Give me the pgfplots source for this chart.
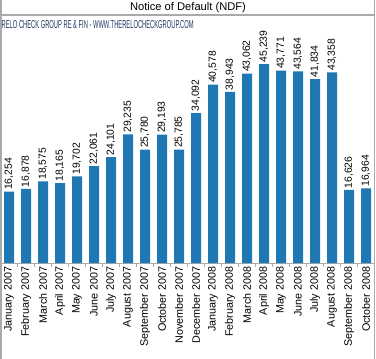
\documentclass[border=0pt]{standalone}
\usepackage{pgfplots}
\pgfplotsset{compat=1.18}
\usepackage{fontspec}
\setmainfont{Liberation Sans}
\definecolor{barblue}{RGB}{31,119,180}
\definecolor{framegray}{RGB}{170,170,170}
\definecolor{subblue}{RGB}{35,55,100}
\begin{document}
\begin{tikzpicture}[x=1bp,y=1bp]
\path[use as bounding box] (0,0) rectangle (376,-359);
\draw[framegray,line width=1.2bp] (1,0) -- (1,-359);
\draw[framegray,line width=1.2bp] (374.5,0) -- (374.5,-359);
\draw[framegray,line width=1.2bp] (1,-15) -- (374.5,-15);
\node[font=\fontsize{11.2}{13}\selectfont,inner sep=0pt] at (188,-7.5) {Notice of Default (NDF)};
\node[anchor=west,inner sep=0pt,text=subblue] at (1.5,-25) {\resizebox{192bp}{8bp}{\fontsize{10}{10}\selectfont RELO CHECK GROUP RE \& FIN - WWW.THERELOCHECKGROUP.COM}};
\begin{axis}[
  at={(0.5bp,-263bp)}, anchor=south west,
  scale only axis, width=374bp, height=248bp,
  xmin=-0.5, xmax=21.5, ymin=0, ymax=56400,
  axis x line*=bottom, axis y line=none,
  x axis line style={framegray,line width=0.8bp,-},
  xtick={0,...,21}, major tick length=0pt,
  minor xtick={-0.5,0.5,...,21.5}, minor tick length=3.5bp,
  tick align=outside,
  minor tick style={framegray,line width=0.6bp},
  xticklabels={January 2007,February 2007,March 2007,April 2007,May 2007,June 2007,July 2007,August 2007,September 2007,October 2007,November 2007,December 2007,January 2008,February 2008,March 2008,April 2008,May 2008,June 2008,July 2008,August 2008,September 2008,October 2008},
  xticklabel style={rotate=90,anchor=east,inner sep=3.5bp,font=\fontsize{10.8}{12}\selectfont},
  /pgf/number format/assume math mode=true,
  /pgf/number format/1000 sep={,},
  nodes near coords,
  nodes near coords style={rotate=90,anchor=west,inner sep=1.5bp,font=\fontsize{10.4}{12}\selectfont},
  clip=false,
]
\addplot[ybar, bar width=10bp, fill=barblue, draw=none] coordinates {
(0,16254) (1,16878) (2,18575) (3,18165) (4,19702) (5,22061) (6,24101) (7,29235) (8,25780) (9,29193) (10,25785) (11,34092) (12,40578) (13,38943) (14,43062) (15,45239) (16,43771) (17,43564) (18,41834) (19,43358) (20,16626) (21,16964)
};
\end{axis}
\end{tikzpicture}
\end{document}
